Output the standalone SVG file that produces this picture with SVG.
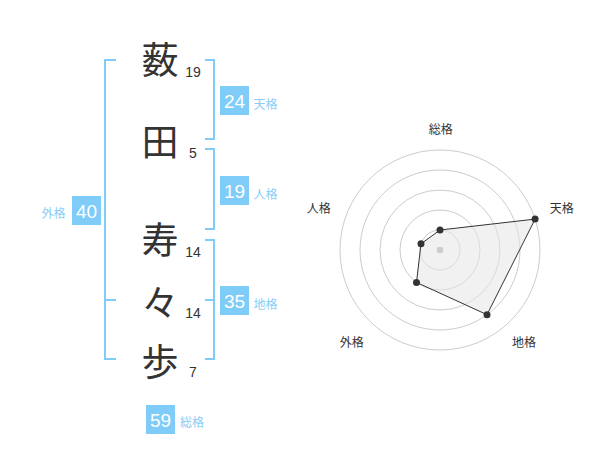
<svg xmlns="http://www.w3.org/2000/svg" width="600" height="470" viewBox="0 0 600 470">
<style>
.kanji{font-family:"Noto Sans CJK JP","Noto Sans CJK SC",sans-serif;font-size:37px;fill:#333;text-anchor:middle}
.num{font-family:"Liberation Sans",Arial,sans-serif;font-size:14px;fill:#333;text-anchor:middle}
.box{fill:#80ccf8}
.boxt{font-family:"Liberation Sans",Arial,sans-serif;font-size:19px;fill:#fff;text-anchor:middle}
.lbl{font-family:"Noto Sans CJK JP","Noto Sans CJK SC",sans-serif;font-size:12px;fill:#88cdf5}
.br{fill:none;stroke:#80ccf8;stroke-width:2}
.ring{fill:none;stroke:#ccc;stroke-width:1}
.rl{font-family:"Noto Sans CJK JP","Noto Sans CJK SC",sans-serif;font-size:12px;fill:#333;text-anchor:middle}
.pt{fill:#333}
</style>
<rect width="600" height="470" fill="#fff"/>
<g id="connectors">
<path class="br" d="M116,60 H105 V359 H116 M105,300 H116"/>
<path class="br" d="M205,60 H214 V139 H205"/>
<path class="br" d="M205,149 H214 V229 H205"/>
<path class="br" d="M205,240 H214 V359 H205 M205,300 H214"/>
</g>
<g id="char1"><text class="kanji" x="160" y="74">薮</text><text class="num" x="193" y="77">19</text></g>
<g id="char2"><text class="kanji" x="160" y="155.5">田</text><text class="num" x="193" y="158">5</text></g>
<g id="char3"><text class="kanji" x="160" y="254">寿</text><text class="num" x="193" y="257">14</text></g>
<g id="char4"><text class="kanji" x="160" y="316.5">々</text><text class="num" x="193" y="317.5">14</text></g>
<g id="char5"><text class="kanji" x="160" y="375.5">歩</text><text class="num" x="193" y="377">7</text></g>
<g id="tenkaku"><rect class="box" x="220" y="86" width="29" height="29"/><text class="boxt" x="234.5" y="108.3">24</text><text class="lbl" x="253.5" y="108.5">天格</text></g>
<g id="jinkaku"><rect class="box" x="220" y="176" width="29" height="29"/><text class="boxt" x="234.5" y="198.3">19</text><text class="lbl" x="253.5" y="198.5">人格</text></g>
<g id="chikaku"><rect class="box" x="220" y="286" width="29" height="29"/><text class="boxt" x="234.5" y="308.3">35</text><text class="lbl" x="253.5" y="309">地格</text></g>
<g id="gaikaku"><rect class="box" x="72" y="196" width="29" height="29"/><text class="boxt" x="86.5" y="218.3">40</text><text class="lbl" x="41.5" y="218">外格</text></g>
<g id="soukaku"><rect class="box" x="146" y="405" width="29" height="29"/><text class="boxt" x="160.5" y="427.3">59</text><text class="lbl" x="180" y="427">総格</text></g>
<g id="radar">
<circle class="ring" cx="440" cy="250" r="20"/>
<circle class="ring" cx="440" cy="250" r="40"/>
<circle class="ring" cx="440" cy="250" r="60"/>
<circle class="ring" cx="440" cy="250" r="80"/>
<circle class="ring" cx="440" cy="250" r="100"/>
<polygon points="440,230 535.1,219.1 487,314.7 416.5,282.4 421,243.8" fill="#e6e6e6" fill-opacity="0.55" stroke="#333" stroke-width="1"/>
<circle cx="440" cy="250" r="3.3" fill="#ccc"/>
<circle class="pt" cx="440" cy="230" r="3.5"/>
<circle class="pt" cx="535.1" cy="219.1" r="3.5"/>
<circle class="pt" cx="487" cy="314.7" r="3.5"/>
<circle class="pt" cx="416.5" cy="282.4" r="3.5"/>
<circle class="pt" cx="421" cy="243.8" r="3.5"/>
<text class="rl" x="440.8" y="133.5">総格</text>
<text class="rl" x="561.7" y="212.8">天格</text>
<text class="rl" x="318.8" y="213.3">人格</text>
<text class="rl" x="351.7" y="346.8">外格</text>
<text class="rl" x="524" y="346.8">地格</text>
</g>
</svg>
